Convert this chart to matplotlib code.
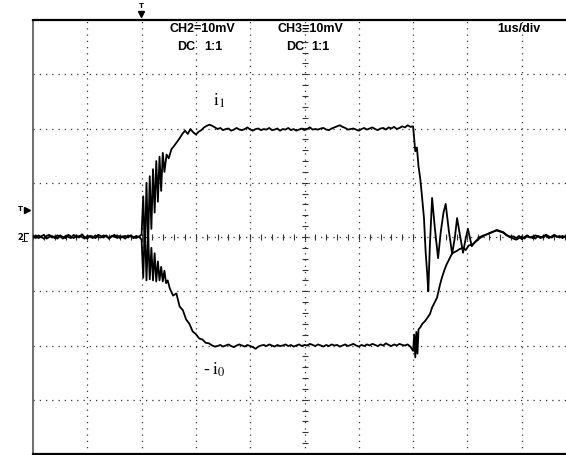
import numpy as np
import matplotlib
matplotlib.use("Agg")
import matplotlib.pyplot as plt

W, H = 566, 455

# shared sample times (us)
t_base = [0.00, 0.05, 0.10, 0.15, 0.20, 0.25, 0.30, 0.35, 0.40, 0.45,
          0.50, 0.55, 0.60, 0.65, 0.70, 0.75, 0.80, 0.85, 0.90, 0.95,
          1.00, 1.05, 1.10, 1.15, 1.20, 1.25, 1.30, 1.35, 1.40, 1.45,
          1.50, 1.55, 1.60, 1.65, 1.70, 1.75, 1.80, 1.85, 1.90, 1.95]
t_flat = [3.40, 3.45, 3.50, 3.55, 3.60, 3.65, 3.70, 3.75, 3.80, 3.85,
          3.90, 3.95, 4.00, 4.05, 4.10, 4.15, 4.20, 4.25, 4.30, 4.35,
          4.40, 4.45, 4.50, 4.55, 4.60, 4.65, 4.70, 4.75, 4.80, 4.85,
          4.90, 4.95, 5.00, 5.05, 5.10, 5.15, 5.20, 5.25, 5.30, 5.35,
          5.40, 5.45, 5.50, 5.55, 5.60, 5.65, 5.70, 5.75, 5.80, 5.85,
          5.90, 5.95, 6.00, 6.05, 6.10, 6.15, 6.20, 6.25, 6.30, 6.35,
          6.40, 6.45, 6.50, 6.55, 6.60, 6.65, 6.70, 6.75, 6.80, 6.85,
          6.90, 6.95]
t_tail = [8.85, 8.90, 8.95, 9.00, 9.05, 9.10, 9.15, 9.20, 9.25, 9.30,
          9.35, 9.40, 9.45, 9.50, 9.55, 9.60, 9.65, 9.70, 9.75, 9.80,
          9.85, 9.90, 9.95, 10.00]

# i1 trace (divisions)
i1_base = [0.02, -0.02, 0.03, 0.00, -0.03, 0.02, 0.04, -0.01, 0.01, -0.03,
           0.03, 0.00, -0.02, 0.04, 0.01, -0.02, 0.03, -0.01, 0.05, 0.00,
           -0.03, 0.02, 0.01, -0.02, 0.04, 0.02, -0.01, 0.03, -0.03, 0.01,
           0.04, -0.02, 0.02, 0.00, -0.03, 0.03, 0.01, -0.02, 0.02, 0.00]
i1_ring_t = [2.00, 2.03, 2.06, 2.09, 2.12, 2.15, 2.18, 2.21, 2.24, 2.27,
             2.30, 2.33, 2.36, 2.39, 2.42]
i1_ring = [0.05, 0.75, -0.30, 1.00, -0.15, 1.12, 0.15, 1.25, 0.45, 1.40,
           0.65, 1.48, 0.85, 1.55, 1.20]
i1_rise_t = [2.46, 2.50, 2.55, 2.60, 2.65, 2.70, 2.75, 2.80, 2.85, 2.90,
             2.95, 3.00, 3.05, 3.10, 3.15, 3.20, 3.25, 3.30, 3.35]
i1_rise = [1.52, 1.45, 1.62, 1.68, 1.75, 1.82, 1.90, 1.96, 1.90, 1.99,
           1.93, 1.89, 1.94, 1.97, 2.02, 2.05, 2.07, 2.05, 2.02]
i1_flat = [1.99, 2.01, 1.97, 1.99, 2.00, 1.96, 1.98, 2.01, 1.98,
           1.97, 1.99, 2.02, 1.98, 1.96, 1.99, 2.00, 1.97, 1.99,
           1.98, 2.01, 1.97, 1.98, 2.00, 1.96, 1.99, 1.98, 2.01,
           1.97, 1.99, 1.96, 1.98, 2.00, 1.97, 1.99, 2.02, 1.98,
           1.99, 1.98, 2.00, 2.01, 1.98, 1.97, 2.00, 2.02, 2.04,
           2.06, 2.03, 2.01, 1.98, 1.99, 2.00, 1.98, 1.96, 1.99,
           2.01, 1.98, 2.00, 2.02, 1.99, 1.97, 2.00, 2.01, 1.98,
           2.02, 2.00, 2.03, 1.99, 2.01, 2.04, 2.02, 2.06, 2.03]
i1_fall_t = [7.00, 7.02, 7.04, 7.07, 7.10, 7.13, 7.16, 7.20, 7.23, 7.26, 7.28,
             7.31, 7.35, 7.40, 7.46, 7.51, 7.56, 7.60, 7.66, 7.72, 7.77,
             7.81, 7.86, 7.92, 7.97, 8.01, 8.08, 8.16, 8.23, 8.30, 8.36,
             8.42, 8.48, 8.54, 8.60, 8.66, 8.72, 8.78]
i1_fall = [2.04, 1.80, 1.58, 1.65, 1.30, 1.09, 0.79, 0.35, -0.26, -0.68, -1.00,
           -0.13, 0.72, 0.17, -0.39, 0.10, 0.45, 0.61, 0.10, -0.31, 0.00,
           0.35, 0.05, -0.29, -0.02, 0.15, -0.17, -0.07, 0.00, 0.03, 0.05,
           0.07, 0.10, 0.13, 0.11, 0.09, 0.04, 0.00]
i1_tail = [-0.03, -0.05, -0.02, 0.01, -0.03, 0.02, 0.00, -0.02, 0.03, 0.01,
           -0.02, 0.02, 0.04, 0.01, -0.01, 0.03, 0.00, 0.02, -0.02, 0.01,
           0.03, -0.01, 0.02, 0.00]

# -i0 trace (divisions)
i0_base = [-0.01, 0.03, -0.02, 0.01, 0.04, -0.03, 0.00, 0.02, -0.02, 0.03,
           0.01, -0.03, 0.02, 0.00, -0.02, 0.04, -0.01, 0.02, 0.00, -0.03,
           0.02, 0.01, -0.02, 0.03, 0.00, -0.01, 0.03, 0.01, -0.02, 0.02,
           0.00, 0.03, -0.02, 0.01, 0.02, -0.01, 0.03, 0.00, -0.02, 0.01]
i0_ring_t = [2.00, 2.03, 2.06, 2.09, 2.12, 2.15, 2.18, 2.21, 2.24, 2.27,
             2.30, 2.33, 2.36, 2.39, 2.42, 2.45, 2.48,
             2.52, 2.58, 2.64, 2.70, 2.76, 2.82, 2.88, 2.94, 3.00, 3.06,
             3.12, 3.18, 3.24, 3.30, 3.35]
i0_ring = [-0.05, -0.75, 0.25, -0.80, 0.05, -0.78, -0.20, -0.80, -0.30, -0.82,
           -0.45, -0.80, -0.55, -0.82, -0.62, -0.85, -0.80,
           -0.95, -1.08, -1.04, -1.28, -1.35, -1.52, -1.60, -1.74, -1.79, -1.87,
           -1.89, -1.95, -1.96, -2.00, -2.02]
i0_flat = [-2.01, -1.99, -2.02, -2.00, -1.98, -2.01, -2.03, -2.00, -1.98,
           -2.00, -2.02, -1.99, -2.01, -2.03, -2.06, -2.02, -2.00, -1.99,
           -2.01, -1.98, -2.00, -2.02, -1.99, -2.01, -2.00, -1.98, -2.01,
           -1.99, -2.02, -2.00, -1.98, -2.01, -1.99, -2.00, -1.97, -1.99,
           -2.01, -1.98, -2.00, -2.02, -1.99, -2.01, -1.98, -2.00, -1.99,
           -2.02, -2.00, -1.98, -2.01, -1.99, -1.97, -2.00, -2.02, -1.99,
           -2.01, -1.98, -2.00, -1.97, -1.99, -2.01, -1.98, -2.00, -1.96,
           -1.99, -2.01, -1.98, -2.00, -1.97, -1.99, -2.00, -1.98, -2.02]
i0_rise_t = [7.00, 7.02, 7.04, 7.06, 7.08, 7.10, 7.13, 7.17, 7.22, 7.27,
             7.31, 7.35, 7.40, 7.44, 7.49, 7.53, 7.58, 7.62, 7.67, 7.72,
             7.80, 7.86, 7.92, 7.97, 8.02, 8.10, 8.16, 8.23, 8.30, 8.36,
             8.42, 8.48, 8.54, 8.60, 8.66, 8.72, 8.78]
i0_rise = [-2.10, -1.80, -2.22, -1.75, -2.15, -1.70, -1.67, -1.60, -1.55, -1.48,
           -1.42, -1.30, -1.20, -1.12, -0.90, -0.75, -0.60, -0.50, -0.40, -0.30,
           -0.26, -0.22, -0.20, -0.24, -0.16, -0.13, -0.08, -0.02, 0.02, 0.05,
           0.08, 0.10, 0.12, 0.10, 0.08, 0.03, 0.01]
i0_tail = [0.01, -0.02, 0.02, -0.04, 0.00, 0.03, -0.01, 0.01, -0.03, 0.02,
           0.00, -0.01, 0.03, -0.02, 0.01, 0.04, 0.01, -0.01, 0.02, 0.00,
           -0.02, 0.03, 0.01, -0.01]

i1_t = np.concatenate([t_base, i1_ring_t, i1_rise_t, t_flat, i1_fall_t, t_tail])
i1_v = np.concatenate([i1_base, i1_ring, i1_rise, i1_flat, i1_fall, i1_tail])
i0_t = np.concatenate([t_base, i0_ring_t, t_flat, i0_rise_t, t_tail])
i0_v = np.concatenate([i0_base, i0_ring, i0_flat, i0_rise, i0_tail])

plt.rcParams["mathtext.fontset"] = "stix"

fig = plt.figure(figsize=(W / 100, H / 100), dpi=100)
fig.patch.set_facecolor("white")
# screen extends a bit past the right edge of the picture
ax = fig.add_axes([33 / W, 1 / H, 543 / W, 434 / H])
ax.set_xlim(0, 10)
ax.set_ylim(-4, 4)
ax.set_xticks([])
ax.set_yticks([])

# dotted graticule
dots = (0, (1, 4))
for gx in range(1, 10):
    ax.axvline(gx, color="#333333", lw=0.9, ls=dots, zorder=1)
for gy in range(-3, 4):
    ax.axhline(gy, color="#333333", lw=0.9, ls=dots, zorder=1)

# small ticks on the centre cross
cx = np.arange(0, 10.01, 0.2)
cy = np.arange(-4, 4.01, 0.2)
ax.plot(cx, np.zeros_like(cx), ls="none", marker="|", ms=4, mew=0.8, color="#333333", zorder=1)
ax.plot(np.full_like(cy, 5.0), cy, ls="none", marker="_", ms=4, mew=0.8, color="#333333", zorder=1)

ax.plot(i1_t, i1_v, color="black", lw=1.3, zorder=3)
ax.plot(i0_t, i0_v, color="black", lw=1.3, zorder=3)

for side in ["top", "bottom"]:
    ax.spines[side].set_linewidth(1.6)
    ax.spines[side].set_color("black")
ax.spines["left"].set_linewidth(1.2)
ax.spines["left"].set_color("#555555")
ax.spines["right"].set_visible(False)


def ftext(px, py, s, **kw):
    fig.text(px / W, 1 - py / H, s, **kw)


hdr = dict(fontsize=9, fontweight="bold", family="Liberation Sans", va="center", ha="left")
ftext(169, 29, "CH2=10mV", **hdr)
ftext(177, 47, "DC", **hdr)
ftext(204, 47, "1:1", **hdr)
ftext(277, 29, "CH3=10mV", **hdr)
ftext(286, 47, "DC", **hdr)
ftext(311, 47, "1:1", **hdr)
ftext(497, 29, "1us/div", **hdr)

ftext(213, 101, r"$\mathrm{i}_1$", fontsize=13, va="center", ha="left")
ftext(203, 370, "-", fontsize=13, family="Liberation Serif", va="center", ha="left")
ftext(212, 370, r"$\mathrm{i}_0$", fontsize=13, va="center", ha="left")

# trigger / channel markers around the screen
ftext(141, 6, "T", fontsize=5, fontweight="bold", ha="center", va="center")
fig.add_artist(plt.Line2D([141 / W], [1 - 14 / H], marker="v", ms=5, color="black"))
ftext(20, 209, "T", fontsize=5, fontweight="bold", ha="center", va="center")
fig.add_artist(plt.Line2D([27 / W], [1 - 210 / H], marker=">", ms=5, color="black"))
ftext(20, 238, "2", fontsize=6, fontweight="bold", ha="center", va="center")
fig.add_artist(plt.Line2D([24 / W, 28 / W], [1 - 233 / H, 1 - 233 / H], lw=0.8, color="black"))
fig.add_artist(plt.Line2D([24 / W, 24 / W], [1 - 233 / H, 1 - 240 / H], lw=0.8, color="black"))
fig.add_artist(plt.Line2D([22 / W, 27 / W], [1 - 241 / H, 1 - 241 / H], lw=0.6, color="black"))

fig.savefig("out.png", dpi=100)
